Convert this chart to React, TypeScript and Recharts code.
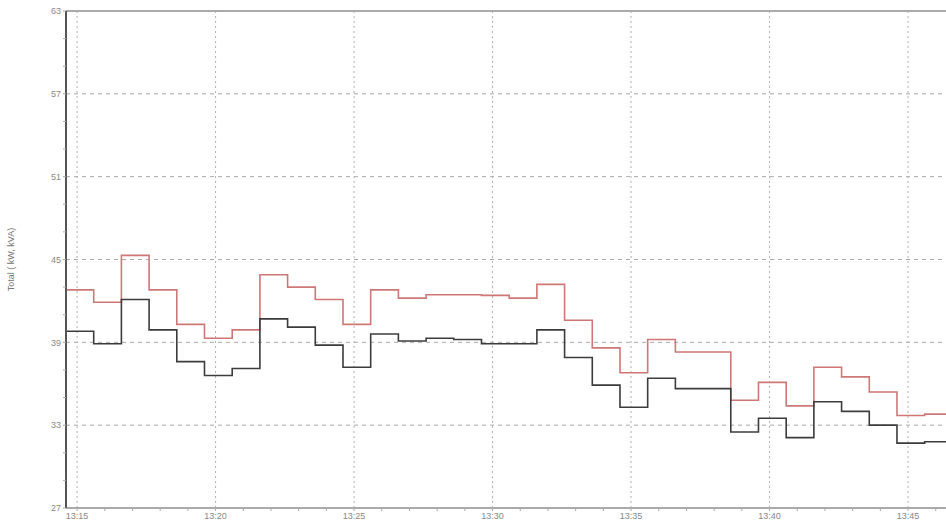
import { LineChart, Line, XAxis, YAxis, ReferenceLine } from 'recharts'

// minutes after 13:00, one step per minute (last entry just closes the final step)
const times = [
  14.6, 15.6, 16.6, 17.6, 18.6, 19.6, 20.6, 21.6, 22.6, 23.6, 24.6, 25.6, 26.6, 27.6, 28.6, 29.6,
  30.6, 31.6, 32.6, 33.6, 34.6, 35.6, 36.6, 37.6, 38.6, 39.6, 40.6, 41.6, 42.6, 43.6, 44.6, 45.6, 46.6,
]
const kva = [
  42.8, 41.9, 45.3, 42.8, 40.3, 39.3, 39.9, 43.9, 43.0, 42.1, 40.3, 42.8, 42.2, 42.45, 42.45, 42.4,
  42.2, 43.2, 40.6, 38.6, 36.8, 39.2, 38.3, 38.3, 34.8, 36.1, 34.4, 37.2, 36.5, 35.4, 33.7, 33.8, 33.8,
]
const kw = [
  39.8, 38.9, 42.1, 39.9, 37.6, 36.6, 37.1, 40.7, 40.1, 38.8, 37.2, 39.6, 39.1, 39.3, 39.2, 38.9,
  38.9, 39.9, 37.9, 35.9, 34.3, 36.4, 35.65, 35.65, 32.5, 33.5, 32.1, 34.7, 34.0, 33.0, 31.7, 31.8, 31.8,
]

const xTicks = [15, 16, 17, 18, 19, 20, 21, 22, 23, 24, 25, 26, 27, 28, 29, 30, 31, 32, 33, 34, 35, 36, 37, 38, 39, 40, 41, 42, 43, 44, 45, 46]
const xMajor = [15, 20, 25, 30, 35, 40, 45]
const yTicks = [27, 29, 31, 33, 35, 37, 39, 41, 43, 45, 47, 49, 51, 53, 55, 57, 59, 61, 63]
const yMajor = [27, 33, 39, 45, 51, 57, 63]

const data = times.map((t, i) => ({ t, kva: kva[i], kw: kw[i] }))

const font = 'Liberation Sans, Arial, sans-serif'
const tickStyle = { fill: '#888', fontSize: 9, fontFamily: font }

export default function App() {
  return (
    <div style={{ position: 'absolute', left: 0, top: 0, background: '#fff' }}>
      <LineChart width={946} height={525} data={data} margin={{ top: 11, right: 0, bottom: 0, left: 0 }}>
        <XAxis
          dataKey="t"
          type="number"
          domain={[14.6, 46.37]}
          allowDataOverflow
          ticks={xTicks}
          interval={0}
          tickFormatter={(v) => (xMajor.includes(v) ? `13:${v}` : '')}
          tick={tickStyle}
          tickSize={3}
          height={17}
          axisLine={{ stroke: '#aaa', strokeWidth: 2 }}
          tickLine={{ stroke: '#aaa' }}
        />
        <YAxis
          type="number"
          domain={[27, 63]}
          allowDataOverflow
          ticks={yTicks}
          interval={0}
          tickFormatter={(v) => (yMajor.includes(v) ? String(v) : '')}
          tick={tickStyle}
          tickSize={3}
          width={66}
          axisLine={{ stroke: '#555', strokeWidth: 2 }}
          tickLine={{ stroke: '#aaa' }}
          label={{
            value: 'Total ( kW, kVA)',
            angle: -90,
            position: 'insideLeft',
            offset: 11,
            style: { fill: '#777', fontSize: 9, fontFamily: font, textAnchor: 'middle' },
          }}
        />
        {yMajor.slice(1, -1).map((v) => (
          <ReferenceLine key={'h' + v} y={v} stroke="#aaa" strokeDasharray="4 4" />
        ))}
        {xMajor.map((v) => (
          <ReferenceLine key={'v' + v} x={v} stroke="#b0b0b0" strokeDasharray="2 3" />
        ))}
        <ReferenceLine y={63} stroke="#aaa" strokeWidth={2} />
        <Line type="stepAfter" dataKey="kva" stroke="#cf7777" strokeWidth={1.6} dot={false} isAnimationActive={false} />
        <Line type="stepAfter" dataKey="kw" stroke="#3c3c3c" strokeWidth={1.6} dot={false} isAnimationActive={false} />
      </LineChart>
    </div>
  )
}
